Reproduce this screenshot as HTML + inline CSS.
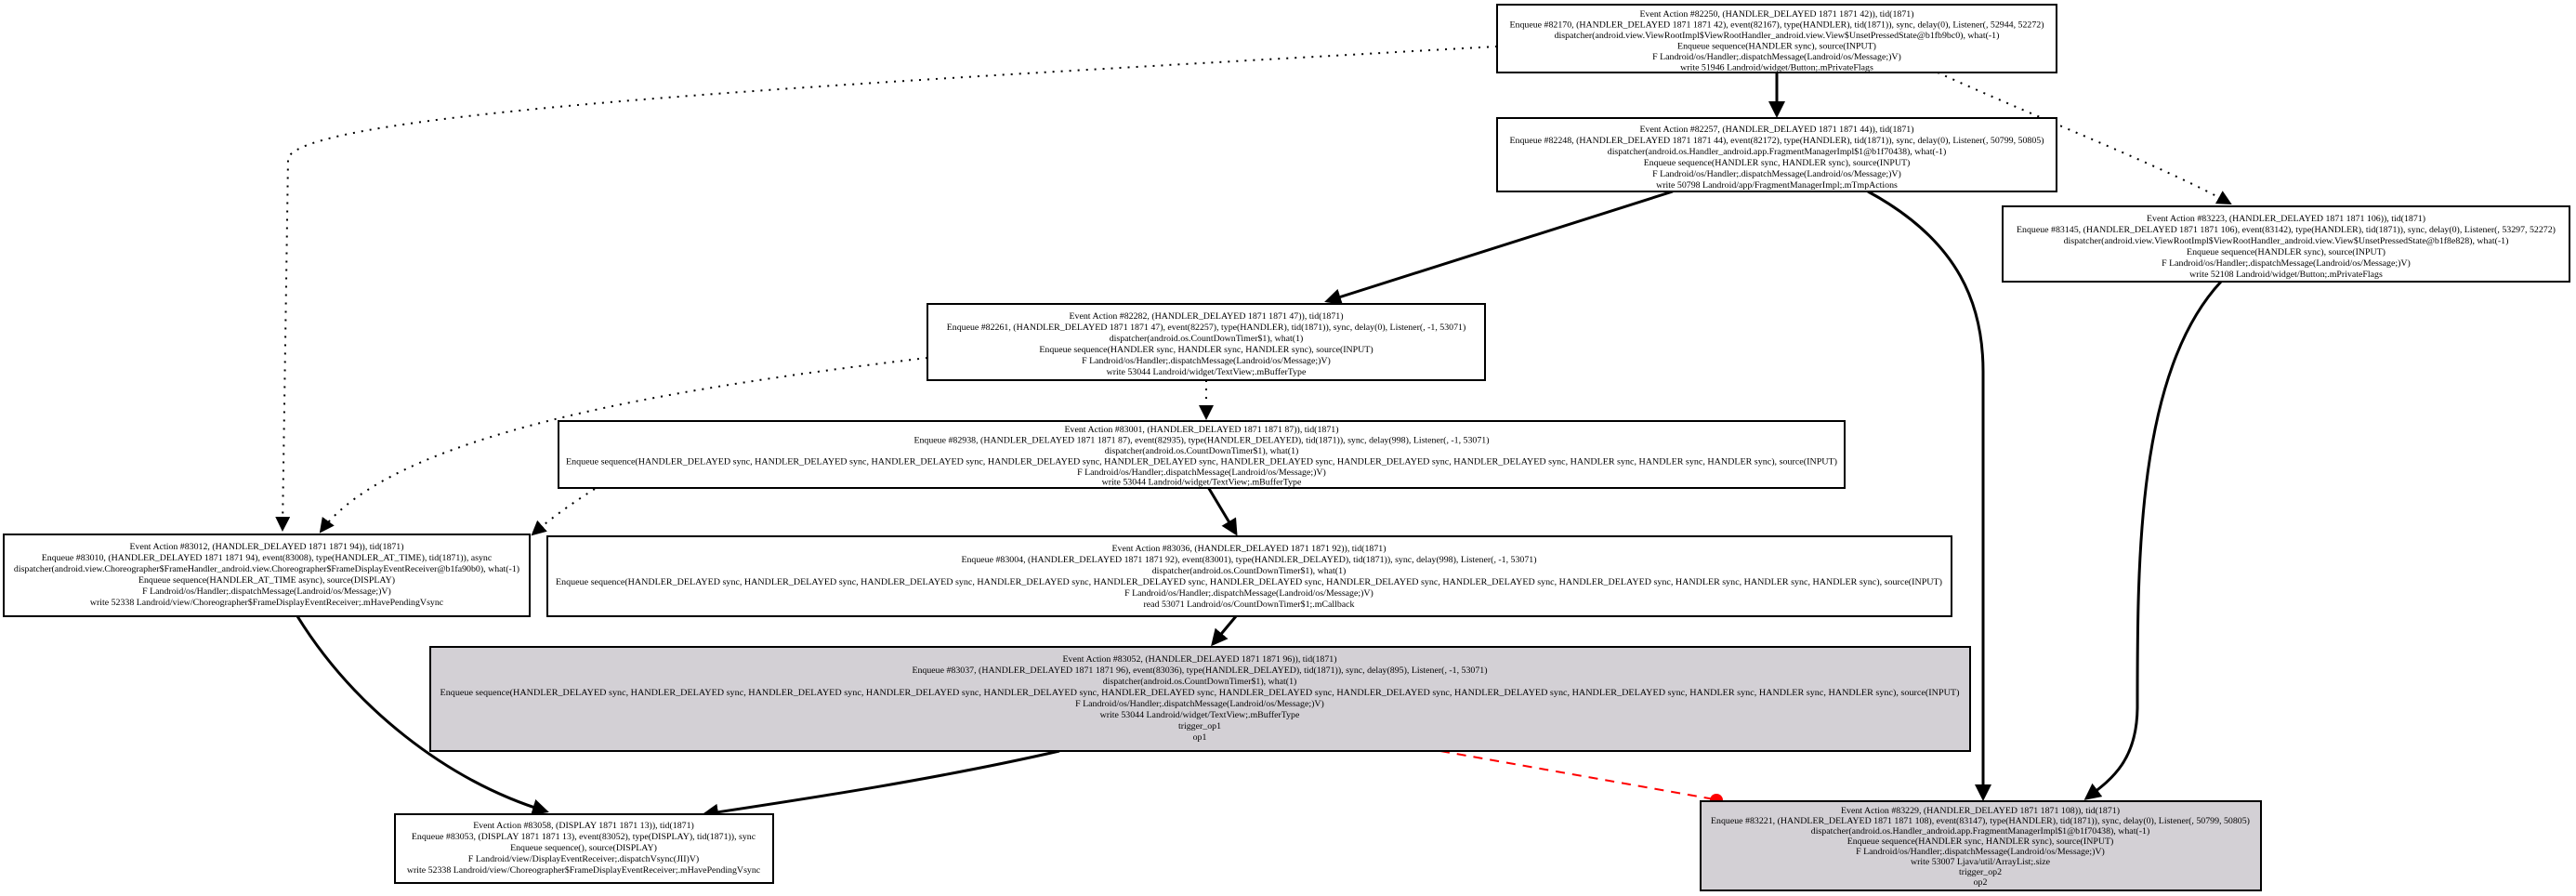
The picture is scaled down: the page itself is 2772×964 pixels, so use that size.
<!DOCTYPE html>
<html><head><meta charset="utf-8"><style>
html,body{margin:0;padding:0;background:#fff;}
svg{display:block}
text{font-family:"Liberation Serif",serif;font-size:9.9px;fill:#000;text-anchor:middle}
.b{fill:#fff;stroke:#000;stroke-width:2}
.g{fill:#d3d0d5;stroke:#000;stroke-width:2}
.e{fill:none;stroke:#000;stroke-width:3}
.d{fill:none;stroke:#000;stroke-width:2;stroke-dasharray:2,7}
</style></head><body>
<svg width="2772" height="964" viewBox="0 0 2772 964" xmlns="http://www.w3.org/2000/svg">
<defs>
<marker id="ah" markerWidth="6" markerHeight="6" refX="5" refY="3" orient="auto" markerUnits="strokeWidth"><path d="M0,0 L6,3 L0,6 z" fill="#000"/></marker>
<marker id="ah2" markerWidth="8" markerHeight="8" refX="7" refY="4" orient="auto" markerUnits="strokeWidth"><path d="M0,0 L8,4 L0,8 z" fill="#000"/></marker>
</defs>
<rect width="2772" height="964" fill="#fff"/>

<!-- edges -->
<path class="e" marker-end="url(#ah)" d="M1912,78 L1912,124"/>
<path class="d" marker-end="url(#ah2)" d="M1611,50 C900,90 330,120 310,170 L304,570"/>
<path class="d" marker-end="url(#ah2)" d="M2085,78 C2200,130 2330,180 2400,219"/>
<path class="e" marker-end="url(#ah)" d="M1800,206 L1428,324"/>
<path class="e" marker-end="url(#ah)" d="M2010,206 C2110,260 2134,330 2134,400 L2134,859"/>
<path class="e" marker-end="url(#ah)" d="M2390,303 C2300,400 2300,600 2300,760 C2300,820 2270,840 2245,859"/>
<path class="d" marker-end="url(#ah2)" d="M998,385 C700,420 420,470 345,572"/>
<path class="d" marker-end="url(#ah2)" d="M1298,409 L1298,450"/>
<path class="d" marker-end="url(#ah2)" d="M640,526 C610,545 590,560 573,575"/>
<path class="e" marker-end="url(#ah)" d="M1300,524 L1330,574"/>
<path class="e" marker-end="url(#ah)" d="M320,663 C380,760 480,840 588,873"/>
<path class="e" marker-end="url(#ah)" d="M1330,663 L1305,693"/>
<path class="e" marker-end="url(#ah)" d="M1140,808 C1000,840 850,862 758,876"/>
<path d="M1550,808 L1845,860" fill="none" stroke="#f00" stroke-width="2" stroke-dasharray="10,8"/>
<circle cx="1847" cy="861" r="7" fill="#f00"/>
<text x="1780" y="785" style="font-size:17px;fill:#f00">READ-WRITE</text>

<!-- A -->
<rect class="b" x="1611" y="5" width="602" height="73"/>
<text x="1912" y="18">Event Action #82250, (HANDLER_DELAYED 1871 1871 42)), tid(1871)</text>
<text x="1912" y="29.5">Enqueue #82170, (HANDLER_DELAYED 1871 1871 42), event(82167), type(HANDLER), tid(1871)), sync, delay(0), Listener(, 52944, 52272)</text>
<text x="1912" y="41">dispatcher(android.view.ViewRootImpl$ViewRootHandler_android.view.View$UnsetPressedState@b1fb9bc0), what(-1)</text>
<text x="1912" y="52.5">Enqueue sequence(HANDLER sync), source(INPUT)</text>
<text x="1912" y="64">F Landroid/os/Handler;.dispatchMessage(Landroid/os/Message;)V)</text>
<text x="1912" y="75.5">write 51946 Landroid/widget/Button;.mPrivateFlags</text>

<!-- B -->
<rect class="b" x="1611" y="127" width="602" height="79"/>
<text x="1912" y="142">Event Action #82257, (HANDLER_DELAYED 1871 1871 44)), tid(1871)</text>
<text x="1912" y="154">Enqueue #82248, (HANDLER_DELAYED 1871 1871 44), event(82172), type(HANDLER), tid(1871)), sync, delay(0), Listener(, 50799, 50805)</text>
<text x="1912" y="166">dispatcher(android.os.Handler_android.app.FragmentManagerImpl$1@b1f70438), what(-1)</text>
<text x="1912" y="178">Enqueue sequence(HANDLER sync, HANDLER sync), source(INPUT)</text>
<text x="1912" y="190">F Landroid/os/Handler;.dispatchMessage(Landroid/os/Message;)V)</text>
<text x="1912" y="202">write 50798 Landroid/app/FragmentManagerImpl;.mTmpActions</text>

<!-- C -->
<rect class="b" x="2155" y="222" width="610" height="81"/>
<text x="2460" y="238">Event Action #83223, (HANDLER_DELAYED 1871 1871 106)), tid(1871)</text>
<text x="2460" y="250">Enqueue #83145, (HANDLER_DELAYED 1871 1871 106), event(83142), type(HANDLER), tid(1871)), sync, delay(0), Listener(, 53297, 52272)</text>
<text x="2460" y="262">dispatcher(android.view.ViewRootImpl$ViewRootHandler_android.view.View$UnsetPressedState@b1f8e828), what(-1)</text>
<text x="2460" y="274">Enqueue sequence(HANDLER sync), source(INPUT)</text>
<text x="2460" y="286">F Landroid/os/Handler;.dispatchMessage(Landroid/os/Message;)V)</text>
<text x="2460" y="298">write 52108 Landroid/widget/Button;.mPrivateFlags</text>

<!-- D -->
<rect class="b" x="998" y="327" width="600" height="82"/>
<text x="1298" y="343">Event Action #82282, (HANDLER_DELAYED 1871 1871 47)), tid(1871)</text>
<text x="1298" y="355">Enqueue #82261, (HANDLER_DELAYED 1871 1871 47), event(82257), type(HANDLER), tid(1871)), sync, delay(0), Listener(, -1, 53071)</text>
<text x="1298" y="367">dispatcher(android.os.CountDownTimer$1), what(1)</text>
<text x="1298" y="379">Enqueue sequence(HANDLER sync, HANDLER sync, HANDLER sync), source(INPUT)</text>
<text x="1298" y="391">F Landroid/os/Handler;.dispatchMessage(Landroid/os/Message;)V)</text>
<text x="1298" y="403">write 53044 Landroid/widget/TextView;.mBufferType</text>

<!-- E -->
<rect class="b" x="601" y="453" width="1384" height="72"/>
<text x="1293" y="465">Event Action #83001, (HANDLER_DELAYED 1871 1871 87)), tid(1871)</text>
<text x="1293" y="476.5">Enqueue #82938, (HANDLER_DELAYED 1871 1871 87), event(82935), type(HANDLER_DELAYED), tid(1871)), sync, delay(998), Listener(, -1, 53071)</text>
<text x="1293" y="488">dispatcher(android.os.CountDownTimer$1), what(1)</text>
<text x="1293" y="499.5" textLength="1368" lengthAdjust="spacingAndGlyphs">Enqueue sequence(HANDLER_DELAYED sync, HANDLER_DELAYED sync, HANDLER_DELAYED sync, HANDLER_DELAYED sync, HANDLER_DELAYED sync, HANDLER_DELAYED sync, HANDLER_DELAYED sync, HANDLER_DELAYED sync, HANDLER sync, HANDLER sync, HANDLER sync), source(INPUT)</text>
<text x="1293" y="511">F Landroid/os/Handler;.dispatchMessage(Landroid/os/Message;)V)</text>
<text x="1293" y="521.5">write 53044 Landroid/widget/TextView;.mBufferType</text>

<!-- F -->
<rect class="b" x="4" y="575" width="566" height="88"/>
<text x="287" y="591">Event Action #83012, (HANDLER_DELAYED 1871 1871 94)), tid(1871)</text>
<text x="287" y="603">Enqueue #83010, (HANDLER_DELAYED 1871 1871 94), event(83008), type(HANDLER_AT_TIME), tid(1871)), async</text>
<text x="287" y="615">dispatcher(android.view.Choreographer$FrameHandler_android.view.Choreographer$FrameDisplayEventReceiver@b1fa90b0), what(-1)</text>
<text x="287" y="627">Enqueue sequence(HANDLER_AT_TIME async), source(DISPLAY)</text>
<text x="287" y="639">F Landroid/os/Handler;.dispatchMessage(Landroid/os/Message;)V)</text>
<text x="287" y="651">write 52338 Landroid/view/Choreographer$FrameDisplayEventReceiver;.mHavePendingVsync</text>

<!-- G -->
<rect class="b" x="589" y="577" width="1511" height="86"/>
<text x="1344" y="593">Event Action #83036, (HANDLER_DELAYED 1871 1871 92)), tid(1871)</text>
<text x="1344" y="605">Enqueue #83004, (HANDLER_DELAYED 1871 1871 92), event(83001), type(HANDLER_DELAYED), tid(1871)), sync, delay(998), Listener(, -1, 53071)</text>
<text x="1344" y="617">dispatcher(android.os.CountDownTimer$1), what(1)</text>
<text x="1344" y="629" textLength="1492" lengthAdjust="spacingAndGlyphs">Enqueue sequence(HANDLER_DELAYED sync, HANDLER_DELAYED sync, HANDLER_DELAYED sync, HANDLER_DELAYED sync, HANDLER_DELAYED sync, HANDLER_DELAYED sync, HANDLER_DELAYED sync, HANDLER_DELAYED sync, HANDLER_DELAYED sync, HANDLER sync, HANDLER sync, HANDLER sync), source(INPUT)</text>
<text x="1344" y="641">F Landroid/os/Handler;.dispatchMessage(Landroid/os/Message;)V)</text>
<text x="1344" y="653">read 53071 Landroid/os/CountDownTimer$1;.mCallback</text>

<!-- H -->
<rect class="g" x="463" y="696" width="1657" height="112"/>
<text x="1291" y="712">Event Action #83052, (HANDLER_DELAYED 1871 1871 96)), tid(1871)</text>
<text x="1291" y="724">Enqueue #83037, (HANDLER_DELAYED 1871 1871 96), event(83036), type(HANDLER_DELAYED), tid(1871)), sync, delay(895), Listener(, -1, 53071)</text>
<text x="1291" y="736">dispatcher(android.os.CountDownTimer$1), what(1)</text>
<text x="1291" y="748" textLength="1635" lengthAdjust="spacingAndGlyphs">Enqueue sequence(HANDLER_DELAYED sync, HANDLER_DELAYED sync, HANDLER_DELAYED sync, HANDLER_DELAYED sync, HANDLER_DELAYED sync, HANDLER_DELAYED sync, HANDLER_DELAYED sync, HANDLER_DELAYED sync, HANDLER_DELAYED sync, HANDLER_DELAYED sync, HANDLER sync, HANDLER sync, HANDLER sync), source(INPUT)</text>
<text x="1291" y="760">F Landroid/os/Handler;.dispatchMessage(Landroid/os/Message;)V)</text>
<text x="1291" y="772">write 53044 Landroid/widget/TextView;.mBufferType</text>
<text x="1291" y="784">trigger_op1</text>
<text x="1291" y="796">op1</text>

<!-- I -->
<rect class="b" x="425" y="876" width="407" height="74"/>
<text x="628" y="891">Event Action #83058, (DISPLAY 1871 1871 13)), tid(1871)</text>
<text x="628" y="903">Enqueue #83053, (DISPLAY 1871 1871 13), event(83052), type(DISPLAY), tid(1871)), sync</text>
<text x="628" y="915">Enqueue sequence(), source(DISPLAY)</text>
<text x="628" y="927">F Landroid/view/DisplayEventReceiver;.dispatchVsync(JII)V)</text>
<text x="628" y="939">write 52338 Landroid/view/Choreographer$FrameDisplayEventReceiver;.mHavePendingVsync</text>

<!-- J -->
<rect class="g" x="1830" y="862" width="603" height="96"/>
<text x="2131" y="875">Event Action #83229, (HANDLER_DELAYED 1871 1871 108)), tid(1871)</text>
<text x="2131" y="886">Enqueue #83221, (HANDLER_DELAYED 1871 1871 108), event(83147), type(HANDLER), tid(1871)), sync, delay(0), Listener(, 50799, 50805)</text>
<text x="2131" y="897">dispatcher(android.os.Handler_android.app.FragmentManagerImpl$1@b1f70438), what(-1)</text>
<text x="2131" y="908">Enqueue sequence(HANDLER sync, HANDLER sync), source(INPUT)</text>
<text x="2131" y="919">F Landroid/os/Handler;.dispatchMessage(Landroid/os/Message;)V)</text>
<text x="2131" y="930">write 53007 Ljava/util/ArrayList;.size</text>
<text x="2131" y="941">trigger_op2</text>
<text x="2131" y="952">op2</text>
</svg>
</body></html>
